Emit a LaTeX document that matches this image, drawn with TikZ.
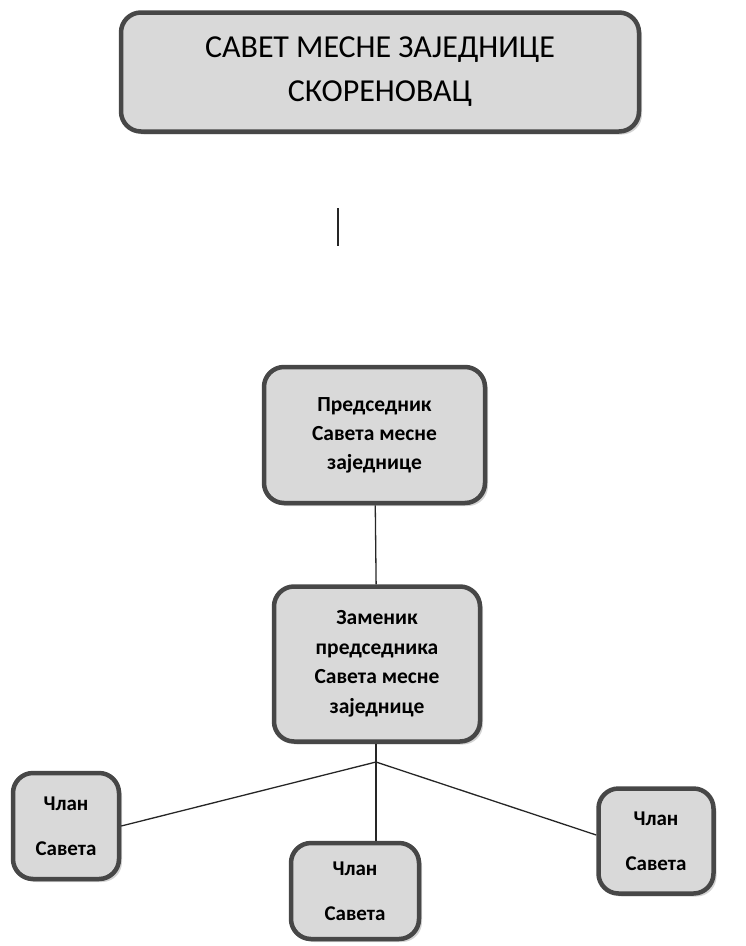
\documentclass[tikz,border=0pt]{standalone}
\usepackage{fontspec}
\setmainfont{Carlito}
\usetikzlibrary{shadows}
\definecolor{fond}{HTML}{D9D9D9}
\definecolor{bord}{HTML}{474747}
\tikzset{
    boite/.style={draw=bord, line width=4.5pt, fill=fond, rounded corners=20pt,
        align=center, drop shadow={opacity=0.35, shadow xshift=3pt, shadow yshift=-3pt}},
    lien/.style={draw=black!85, line width=1.3pt}
}
\begin{document}
\begin{tikzpicture}[x=1pt,y=-1pt]
    \useasboundingbox (0,0) rectangle (746,946);

    % Conseil de la communauté locale
    \node[boite, minimum width=518pt, minimum height=119pt, font=\fontsize{32}{44}\selectfont]
        (savet) at (380,72) {САВЕТ МЕСНЕ ЗАЈЕДНИЦЕ\\СКОРЕНОВАЦ};

    % Petit trait isolé
    \coordinate (T1) at (338,208);
    \coordinate (T2) at (338,246);
    \draw[lien] (T1) -- (T2);

    % Président et adjoint
    \node[boite, minimum width=221pt, minimum height=136pt, font=\bfseries\fontsize{21.5}{29}\selectfont]
        (pred) at (374.5,435) {Председник\\Савета месне\\заједнице};
    \node[boite, minimum width=206pt, minimum height=155pt, font=\bfseries\fontsize{21.5}{29.5}\selectfont]
        (zam) at (377,664) {Заменик\\председника\\Савета месне\\заједнице};
    \draw[lien] (pred) -- (zam);

    % Membres du conseil
    \node[boite, minimum width=106pt, minimum height=106pt, font=\bfseries\fontsize{21}{45}\selectfont]
        (clanA) at (66,826) {Члан\\Савета};
    \node[boite, minimum width=128pt, minimum height=96pt, font=\bfseries\fontsize{21}{45}\selectfont]
        (clanB) at (355,891) {Члан\\Савета};
    \node[boite, minimum width=115pt, minimum height=105pt, font=\bfseries\fontsize{21}{45}\selectfont]
        (clanC) at (656,841) {Члан\\Савета};

    % Branchement
    \coordinate (J) at (376,762);
    \draw[lien] (zam.south -| J) -- (J);
    \draw[lien] (J) -- (clanA.east);
    \draw[lien] (J) -- (clanB.north -| J);
    \draw[lien] (J) -- ([yshift=6pt]clanC.west);
\end{tikzpicture}
\end{document}
